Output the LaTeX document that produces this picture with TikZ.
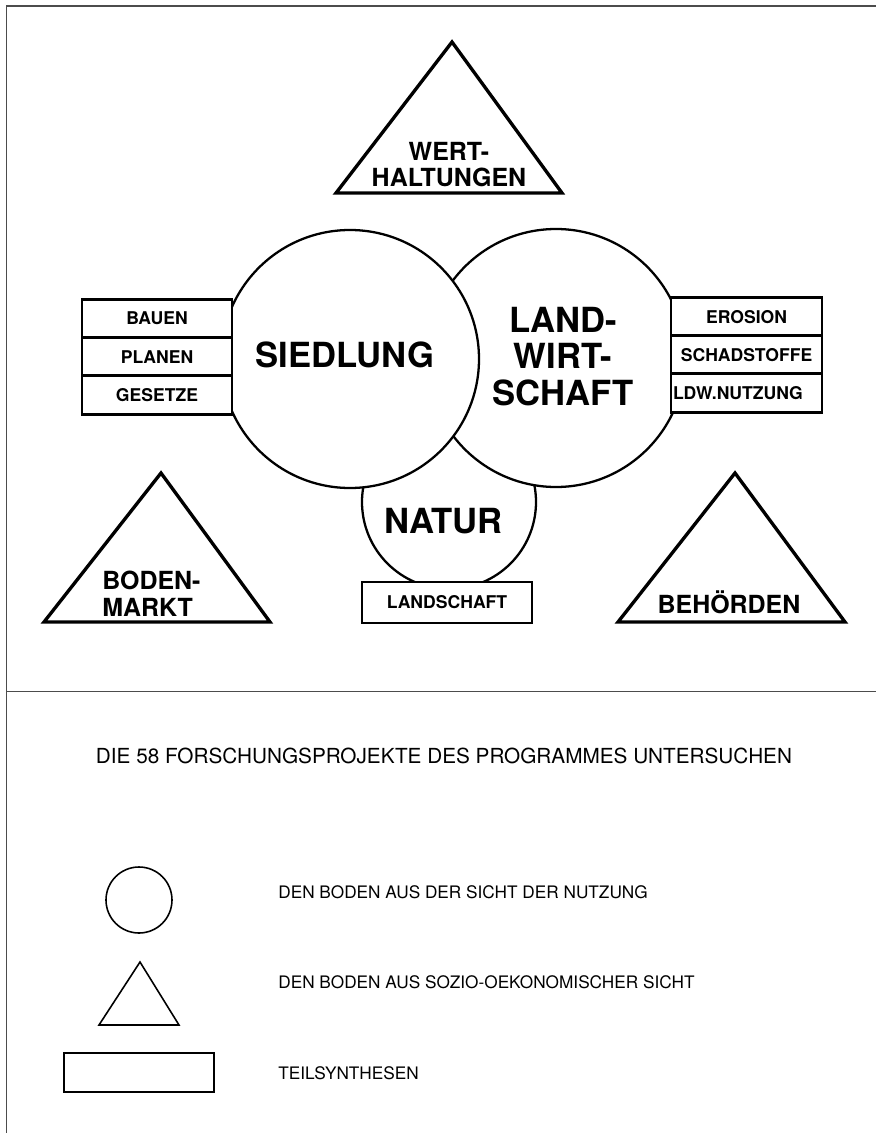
\documentclass[tikz,border=0pt]{standalone}
\usepackage{fontspec}
\setsansfont{TeX Gyre Heros}
\usetikzlibrary{positioning}

\begin{document}
\begin{tikzpicture}[
  every node/.style={font=\sffamily},
  %% line and shape styles
  frame/.style={line width=1.1pt, black!70},
  circ/.style={draw, circle, fill=white, line width=1.3pt, inner sep=0pt},
  tri/.style={draw, fill=white, line width=1.9pt},
  tbox/.style={draw, fill=white, line width=1.5pt, inner sep=0pt,
    minimum height=0.77cm, font=\sffamily\bfseries\fontsize{10}{12}\selectfont},
  biglbl/.style={inner sep=0pt, align=center,
    font=\sffamily\bfseries\fontsize{19.7}{20.7}\selectfont},
  trilbl/.style={inner sep=0pt,
    font=\sffamily\bfseries\fontsize{14.2}{15}\selectfont},
  legshape/.style={draw, line width=0.9pt},
  legtxt/.style={anchor=base west, inner sep=0pt,
    font=\sffamily\fontsize{9.8}{11}\selectfont},
]
\useasboundingbox (0,0) rectangle (17.52,-22.66);

%% frame
\draw[frame] (0.13,-22.66) -- (0.13,-0.12) -- (17.52,-0.12);
\draw[frame] (0.13,-13.83) -- (17.52,-13.83);

%% =========================================================
%% UPPER HALF — land use circles
%% =========================================================
\node[circ, minimum size=3.48cm] (natur) at (8.98,-10.04) {};
\node[circ, minimum size=5.16cm] (ldw)   at (11.12,-7.16) {};
\node[circ, minimum size=5.16cm] (sied)  at (7.00,-7.18) {};

\node[biglbl, anchor=base] (siedlbl) at (6.90,-7.34) {SIEDLUNG};
\node[biglbl, anchor=north] (ldwlbl) at (11.26,-6.14) {LAND-\\WIRT-\\SCHAFT};
\node[biglbl, anchor=base] (naturlbl) at (8.87,-10.66) {NATUR};

%% Teilsynthesen left
\node[tbox, minimum width=3.0cm] (bauen)   at (3.14,-6.37) {BAUEN};
\node[tbox, minimum width=3.0cm] (planen)  at (3.14,-7.14) {PLANEN};
\node[tbox, minimum width=3.0cm] (gesetze) at (3.14,-7.90) {GESETZE};

%% Teilsynthesen right
\node[tbox, minimum width=3.02cm] (erosion) at (14.93,-6.34) {EROSION};
\node[tbox, minimum width=3.02cm] (schad)   at (14.93,-7.10) {SCHADSTOFFE};
\node[tbox, minimum width=3.02cm, text width=2.94cm, align=left]
  (ldwnutz) at (14.93,-7.86) {LDW.NUTZUNG};

%% Teilsynthese below Natur
\node[tbox, minimum width=3.4cm, minimum height=0.82cm] (landsch)
  at (8.94,-12.05) {LANDSCHAFT};

%% socio-economic triangles
\draw[tri] (9.04,-0.84) -- (11.24,-3.86) -- (6.72,-3.86) -- cycle;
\node[trilbl, anchor=north, align=center] (wertlbl) at (8.98,-2.84)
  {WERT-\\HALTUNGEN};

\draw[tri] (3.22,-9.46) -- (5.40,-12.44) -- (0.88,-12.44) -- cycle;
\node[trilbl, anchor=north west, align=left] (bodenlbl) at (2.04,-11.42)
  {BODEN-\\MARKT};

\draw[tri] (14.70,-9.46) -- (16.90,-12.44) -- (12.36,-12.44) -- cycle;
\node[trilbl, anchor=base] (behlbl) at (14.58,-12.26) {BEHÖRDEN};

%% =========================================================
%% LOWER HALF — legend
%% =========================================================
\node[anchor=base, inner sep=0pt, font=\sffamily\fontsize{11.8}{13}\selectfont]
  (title) at (8.88,-15.26) {DIE 58 FORSCHUNGSPROJEKTE DES PROGRAMMES UNTERSUCHEN};

\node[legshape, circle, inner sep=0pt, minimum size=1.32cm] (legcirc) at (2.78,-18.00) {};
\node[legtxt] (legcirctxt) at (5.56,-17.96) {DEN BODEN AUS DER SICHT DER NUTZUNG};

\draw[legshape] (2.80,-19.24) -- (3.58,-20.50) -- (1.98,-20.50) -- cycle;
\node[legtxt] (legtritxt) at (5.56,-19.76) {DEN BODEN AUS SOZIO-OEKONOMISCHER SICHT};

\node[legshape, inner sep=0pt, minimum width=3.0cm, minimum height=0.78cm]
  (legbox) at (2.78,-21.45) {};
\node[legtxt] (legboxtxt) at (5.56,-21.58) {TEILSYNTHESEN};

\end{tikzpicture}
\end{document}
